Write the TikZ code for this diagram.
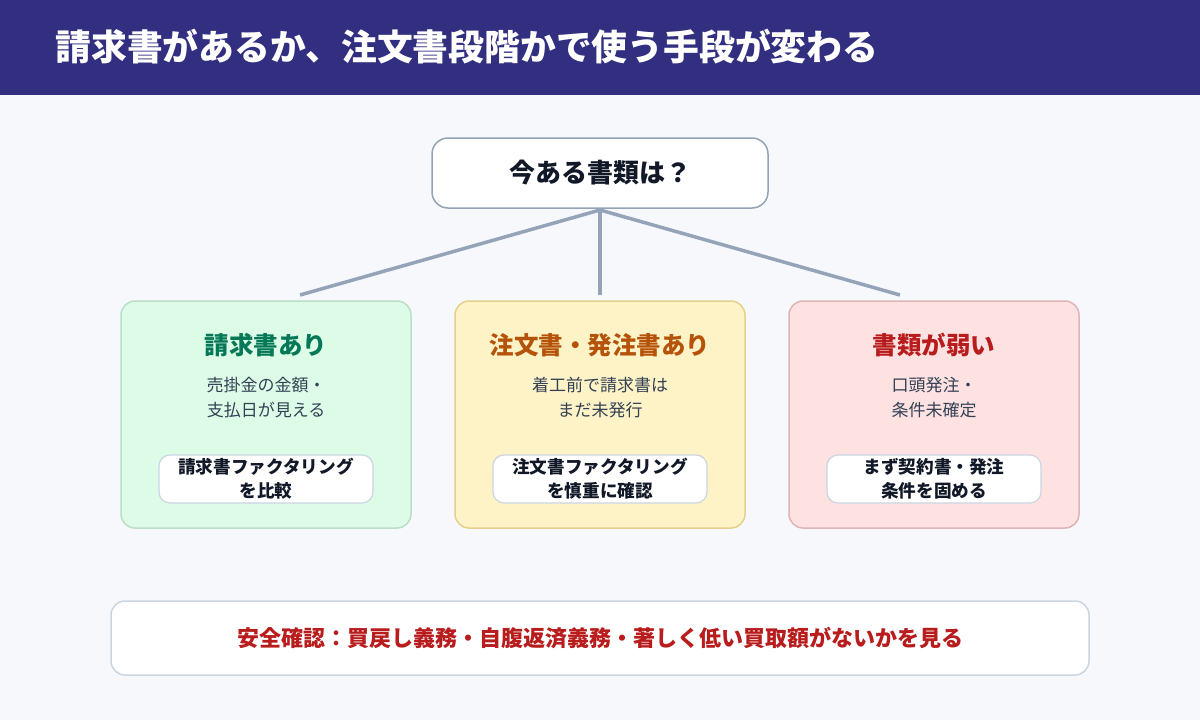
\documentclass[tikz,border=0pt]{standalone}
\usepackage{fontspec}
\setmainfont{Noto Sans CJK JP}
\usetikzlibrary{positioning}

\definecolor{hdrblue}{RGB}{50,46,128}
\definecolor{pagebg}{RGB}{247,248,252}
\definecolor{linegray}{RGB}{148,163,184}
\definecolor{pillline}{RGB}{203,213,225}
\definecolor{inkdark}{RGB}{17,24,39}
\definecolor{inkbody}{RGB}{51,65,85}
\definecolor{grnfill}{RGB}{220,252,231}
\definecolor{grnline}{RGB}{187,222,200}
\definecolor{grntext}{RGB}{4,120,87}
\definecolor{ylwfill}{RGB}{254,243,199}
\definecolor{ylwline}{RGB}{228,208,140}
\definecolor{ylwtext}{RGB}{180,83,9}
\definecolor{redfill}{RGB}{254,226,226}
\definecolor{redline}{RGB}{222,180,180}
\definecolor{redtext}{RGB}{185,28,28}

\tikzset{
  card/.style={draw=#1, line width=1.5pt, rounded corners=14pt,
    minimum width=290pt, minimum height=227pt},
  cardtitle/.style={font=\bfseries\fontsize{24.5}{28}\selectfont, text=#1},
  cardbody/.style={font=\fontsize{17}{25}\selectfont, text=inkbody, align=center},
  pill/.style={draw=pillline, line width=1.2pt, fill=white, rounded corners=11pt,
    minimum width=214pt, minimum height=48pt, inner sep=0pt, align=center,
    font=\bfseries\fontsize{17.6}{24}\selectfont, text=inkdark},
  branch/.style={draw=linegray, line width=3.5pt},
}

\begin{document}
\begin{tikzpicture}[x=1pt, y=-1pt]
  \useasboundingbox (0,0) rectangle (1200,720);
  \fill[pagebg] (0,0) rectangle (1200,720);
  \fill[hdrblue] (0,0) rectangle (1200,95);

  \node[anchor=west, text=white, font=\bfseries\fontsize{35.8}{40}\selectfont] (title) at (52,47)
    {請求書があるか、注文書段階かで使う手段が変わる};

  % question
  \node[draw=linegray, line width=1.5pt, fill=white, rounded corners=16pt,
    minimum width=336pt, minimum height=70pt, text=inkdark,
    font=\bfseries\fontsize{26}{30}\selectfont] (ask) at (600,173) {今ある書類は？};

  \coordinate (root) at (600,210);
  \coordinate (toleft) at (300,295);
  \coordinate (tomid) at (600,295);
  \coordinate (toright) at (900,295);

  \draw[branch] (root) -- (toleft);
  \draw[branch] (root) -- (tomid);
  \draw[branch] (root) -- (toright);

  % invoice
  \node[card=grnline, fill=grnfill] (inv) at (266,414.5) {};
  \node[cardtitle=grntext] (invttl) at (266,345) {請求書あり};
  \node[cardbody] (invtxt) at (266,397.5) {売掛金の金額・\\支払日が見える};
  \node[pill] (invact) at (266,479) {請求書ファクタリング\\を比較};

  % purchase order
  \node[card=ylwline, fill=ylwfill] (ord) at (600,414.5) {};
  \node[cardtitle=ylwtext] (ordttl) at (600,345) {注文書・発注書あり};
  \node[cardbody] (ordtxt) at (600,397.5) {着工前で請求書は\\まだ未発行};
  \node[pill] (ordact) at (600,479) {注文書ファクタリング\\を慎重に確認};

  % weak documents
  \node[card=redline, fill=redfill] (weak) at (934,414.5) {};
  \node[cardtitle=redtext] (weakttl) at (934,345) {書類が弱い};
  \node[cardbody] (weaktxt) at (934,397.5) {口頭発注・\\条件未確定};
  \node[pill] (weakact) at (934,479) {まず契約書・発注\\条件を固める};

  % safety check
  \node[draw=pillline, line width=1.5pt, fill=white, rounded corners=14pt,
    minimum width=978pt, minimum height=74pt, text=redtext,
    font=\bfseries\fontsize{22}{26}\selectfont] (check) at (600,638)
    {安全確認：買戻し義務・自腹返済義務・著しく低い買取額がないかを見る};
\end{tikzpicture}
\end{document}
